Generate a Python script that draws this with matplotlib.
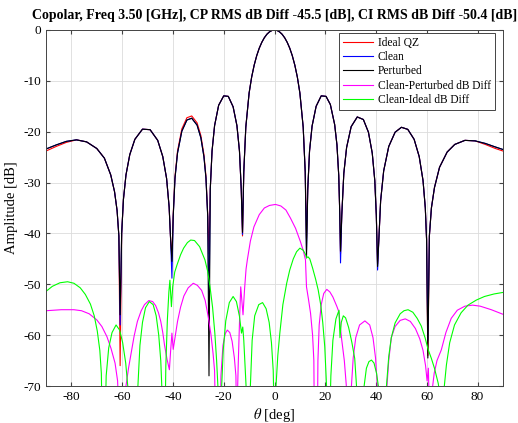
import matplotlib
matplotlib.use("Agg")
import matplotlib.pyplot as plt

plt.rcParams['font.family'] = ['Liberation Serif', 'DejaVu Serif']
plt.rcParams['mathtext.fontset'] = 'stix'
plt.rcParams['axes.unicode_minus'] = False

# angle grid shared by the three patterns
theta = [-90, -86, -82, -78, -74, -70, -67, -64.5, -63, -62, -61.3, -60.8,
         -60.2, -59.5, -58.5, -57, -55, -52, -49, -46, -44, -42.5, -41.5, -40.9, -40.4,
         -39.9, -39.2, -38.2, -36.5, -34.5, -32.6, -30.5, -29, -27.8, -27, -26.3, -25.8,
         -25.3, -24.6, -23.6, -22, -20, -18.2, -16.3, -14.8, -13.8, -13.1, -12.6,
         -12.1, -11.3, -10, -9, -8, -7, -6, -5, -4, -3, -2, -1, 0,
         1, 2, 3, 4, 5, 6, 7, 8, 9, 10, 11.3, 12.1, 12.6,
         13.1, 13.8, 14.8, 16.4, 18.4, 20.3, 22, 23.7, 24.6, 25.3, 25.7, 26.0,
         26.5, 27.3, 28.4, 30.2, 32.6, 35, 37, 38.5, 39.5, 40.1, 40.6,
         41.1, 41.8, 43, 45, 47.5, 50, 52.5, 55, 57, 58.5, 59.4, 59.9, 60.4,
         61, 61.8, 63, 65, 68, 71, 75, 79, 83, 87, 90]

ideal = [-23.8, -22.9, -22.1, -21.6, -22.0, -23.3, -25.2, -28.5, -31.8, -35.5, -40.5, -66.0,
         -40.0, -33.3, -28.5, -24.5, -21.5, -19.5, -19.6, -21.7, -24.9, -29.2, -34.8, -41.4, -44.5,
         -36.3, -28.8, -23.8, -19.45, -17.25, -16.9, -18.25, -20.75, -24.45, -28.7, -36.3, -44.0,
         -31.3, -23.8, -18.8, -14.8, -12.95, -13.05, -15.1, -18.8, -23.8, -31.3, -40.5,
         -27.9, -19.1, -12.4, -9.26, -6.9, -5.04, -3.57, -2.42, -1.52, -0.84, -0.37, -0.09, 0.0,
         -0.09, -0.37, -0.84, -1.52, -2.42, -3.57, -5.04, -6.9, -9.26, -12.4, -19.1, -27.9, -41.0,
         -31.3, -23.8, -18.9, -15.0, -12.95, -13.05, -14.65, -18.6, -22.6, -28.6, -36.0, -44.0,
         -36.4, -28.2, -23.1, -19.0, -17.1, -17.6, -20.1, -24.2, -29.6, -36.4, -46.0,
         -41.2, -33.6, -27.7, -22.9, -20.1, -19.13, -19.54, -21.5, -24.9, -29.6, -35.0, -41.2, -64.0,
         -40.5, -35.0, -31.0, -27.0, -24.0, -22.5, -21.7, -21.8, -22.5, -23.3, -23.8]

clean = [-23.4, -22.6, -21.9, -21.6, -22.0, -23.3, -25.2, -28.5, -31.8, -35.5, -40.5, -58.0,
         -40.0, -33.3, -28.5, -24.5, -21.5, -19.5, -19.6, -21.7, -24.9, -29.2, -34.8, -41.4, -48.8,
         -36.7, -29.2, -24.2, -19.9, -17.7, -17.35, -18.7, -21.2, -24.9, -29.1, -36.7, -55.7,
         -31.3, -23.8, -18.8, -14.8, -12.95, -13.05, -15.1, -18.8, -23.8, -31.3, -40.2,
         -27.9, -19.1, -12.4, -9.26, -6.9, -5.04, -3.57, -2.42, -1.52, -0.84, -0.37, -0.09, 0.0,
         -0.09, -0.37, -0.84, -1.52, -2.42, -3.57, -5.04, -6.9, -9.26, -12.4, -19.1, -27.9, -43.3,
         -31.3, -23.8, -18.9, -15.0, -12.95, -13.05, -14.65, -18.6, -22.6, -28.6, -36.0, -45.8,
         -36.4, -28.2, -23.1, -19.0, -17.1, -17.6, -20.1, -24.2, -29.6, -36.4, -47.2,
         -41.2, -33.6, -27.7, -22.9, -20.1, -19.13, -19.54, -21.5, -24.9, -29.6, -35.0, -41.2, -61.0,
         -40.5, -35.0, -31.0, -27.0, -24.0, -22.5, -21.7, -21.8, -22.3, -23.0, -23.5]

perturbed = [-23.4, -22.6, -21.9, -21.6, -22.0, -23.3, -25.2, -28.5, -31.8, -35.5, -40.5, -56.0,
             -40.0, -33.3, -28.5, -24.5, -21.5, -19.5, -19.6, -21.7, -24.9, -29.2, -34.8, -41.4, -45.5,
             -36.7, -29.2, -24.2, -19.9, -17.7, -17.35, -18.7, -21.2, -24.9, -29.1, -36.7, -68.0,
             -31.3, -23.8, -18.8, -14.8, -12.95, -13.05, -15.1, -18.8, -23.8, -31.3, -39.8,
             -27.9, -19.1, -12.4, -9.26, -6.9, -5.04, -3.57, -2.42, -1.52, -0.84, -0.37, -0.09, 0.0,
             -0.09, -0.37, -0.84, -1.52, -2.42, -3.57, -5.04, -6.9, -9.26, -12.4, -19.1, -27.9, -44.8,
             -31.3, -23.8, -18.9, -15.0, -12.95, -13.05, -14.65, -18.6, -22.6, -28.6, -36.0, -43.5,
             -36.4, -28.2, -23.1, -19.0, -17.1, -17.6, -20.1, -24.2, -29.6, -36.4, -46.5,
             -41.2, -33.6, -27.7, -22.9, -20.1, -19.13, -19.54, -21.5, -24.9, -29.6, -35.0, -41.2, -64.5,
             -40.5, -35.0, -31.0, -27.0, -24.0, -22.5, -21.7, -21.8, -22.3, -23.0, -23.5]

# Clean - Perturbed difference
cp_theta = [-90, -84, -79, -76, -73, -70, -68, -66, -64.4, -62.8, -61.8, -61.1,
            -59.2, -58.5, -57.5, -56.6, -55.3, -54, -52.5, -51.2, -49.5, -48, -46.8, -45.7,
            -44.8, -44, -43.3, -42.3, -41.4, -40.9, -40.4, -39.9, -39.2, -38.2, -37, -35.7,
            -34, -32, -30.4, -28.7, -27.3, -26.1, -25, -24.2, -23.6, -23.2,
            -21.4, -21.1, -20.3, -19.4, -18.6, -17.6, -16.7, -15.8, -15.2, -14.9,
            -14.3, -13.7, -13.3, -12.9, -12.4, -11.8, -11.2, -10.7, -9.5, -8.1, -6, -4, -2,
            0.4, 2.5, 4.5, 6.3, 8.3, 10.2, 11.4, 12.2, 12.6, 13.4, 14.2, 15, 15.5, 15.7,
            16.9, 17.1, 17.6, 18.4, 19.4, 20.6, 21.8, 23, 24.6, 25.4, 25.9, 26.5, 27.5, 28.3, 28.8,
            29.8, 30.3, 31, 32, 33.5, 35.6, 37.5, 38.8, 39.8, 40.5, 40.9,
            43.8, 44.3, 45, 46, 47.5, 49.5, 51.5, 53.5, 55.5, 57.2, 58.5, 59.5, 60.1,
            60.6, 61.0, 61.6, 62.3, 62.9, 64, 65.7, 67.5, 69.6, 72, 75, 78, 81, 85.4, 90]
cp_diff = [-55.2, -55.0, -55.0, -55.2, -55.8, -57.0, -58.3, -60.3, -62.6, -65.5, -69.0, -78.0,
           -78.0, -70.0, -66.5, -63.9, -60.2, -57.3, -55.2, -54.0, -53.2, -53.4, -54.2, -55.6,
           -57.3, -59.5, -62.0, -64.8, -66.8, -63.0, -59.6, -62.8, -60.5, -57.3, -54.5, -52.3,
           -50.7, -49.8, -50.2, -51.2, -53.2, -56.4, -60.0, -63.6, -67.0, -78.0,
           -78.0, -68.0, -62.0, -59.7, -59.0, -59.5, -61.2, -64.5, -68.0, -78.0,
           -66.0, -56.0, -50.5, -53.0, -56.0, -51.0, -47.0, -45.2, -41.5, -38.7, -36.3, -35.0, -34.5,
           -34.3, -34.6, -35.4, -37.0, -39.0, -41.6, -43.5, -45.2, -50.5, -53.0, -55.7, -60.0, -65.0, -78.0,
           -78.0, -65.0, -58.0, -54.0, -51.8, -51.0, -51.5, -52.5, -54.4, -55.5, -58.3, -61.0, -65.0, -70.0, -78.0,
           -78.0, -70.0, -64.5, -60.5, -58.0, -57.2, -58.0, -60.5, -64.5, -70.0, -78.0,
           -78.0, -70.0, -65.0, -60.5, -58.3, -57.1, -56.8, -57.3, -58.7, -60.7, -63.0, -66.0, -69.0,
           -66.5, -75.0, -76.0, -70.0, -67.5, -65.0, -62.9, -59.5, -56.7, -55.1, -54.3, -54.1, -54.3, -55.0, -55.9]

# Clean - Ideal difference
ci_theta = [-90, -87.5, -84.5, -81.5, -79, -76.5, -74.5, -72.5, -71, -69.8, -68.8, -68.2, -67.8,
            -66.8, -66.3, -65.3, -64, -62.4, -61, -59.8, -58.6, -57.8, -57.4,
            -54.2, -53.8, -53, -52, -50.8, -49.3, -47.8, -46.6, -45.6, -44.8, -44.4, -44,
            -43.2, -42.8, -42.2, -41.6, -41.2, -40.6, -40.1, -39.3, -38.4, -37, -35.8, -34.3,
            -33, -31.5, -29.5, -27.4, -26.3, -25.4, -24.4, -23.5, -22.8, -22.3, -22.0,
            -21.1, -20.8, -20.2, -19.2, -17.8, -16.3, -15, -13.8, -13, -12.5, -12.1, -11.6, -11.2, -10.9,
            -9.9, -9.5, -8.8, -7.8, -6.2, -4.7, -3.3, -2.1, -1.2, -0.5, 0,
            0.6, 1.3, 2.1, 3.3, 4.8, 6, 7.4, 8.7, 10, 11.3, 12.3, 12.6, 13.2, 13.9, 15,
            16.2, 17.2, 18.2, 19, 19.8, 20.5, 21,
            21.6, 22.2, 23, 24.2, 25.4, 25.8, 26.3, 27.1, 28, 29.2, 30.5, 31.6, 32.3, 32.8,
            34.8, 35.3, 36.2, 37.2, 38.2, 39.2, 40.2, 40.9, 41.4,
            43.6, 44.1, 45, 46, 47.5, 49.5, 51, 52.6, 54.5, 56.2, 57.8, 59.3, 60.5, 61.8,
            63, 64.5, 65.2, 65.7, 66.5, 67.7, 69, 70.9, 73.5, 76.2, 79.5, 82.7, 86.5, 90]
ci_diff = [-51.4, -50.4, -49.7, -49.5, -49.8, -50.7, -52.0, -53.9, -56.2, -59.2, -63.0, -67.5, -80.0,
           -80.0, -68.0, -62.5, -59.5, -58.0, -59.0, -61.5, -65.5, -70.0, -80.0,
           -80.0, -70.0, -62.0, -57.5, -54.6, -53.4, -54.0, -56.2, -60.0, -65.0, -70.0, -80.0,
           -80.0, -66.0, -57.0, -51.5, -49.2, -54.4, -50.5, -47.6, -46.2, -44.2, -42.9, -41.8,
           -41.3, -41.4, -42.6, -45.2, -47.5, -50.5, -54.5, -59.6, -65.0, -70.0, -80.0,
           -80.0, -70.0, -63.0, -57.2, -53.6, -52.4, -53.4, -56.3, -59.6, -58.4, -61.0, -66.0, -70.0, -80.0,
           -80.0, -70.0, -61.0, -56.2, -54.0, -53.6, -54.8, -57.5, -61.5, -67.0, -80.0,
           -70.0, -64.0, -59.6, -54.0, -49.8, -47.2, -45.0, -43.6, -42.9, -43.3, -44.2, -44.8, -44.6, -45.0, -46.8,
           -49.0, -51.1, -54.0, -57.5, -62.3, -70.0, -80.0,
           -80.0, -68.0, -61.0, -56.8, -55.1, -60.5, -57.5, -56.2, -56.6, -58.5, -61.5, -64.6, -70.0, -80.0,
           -80.0, -70.0, -66.5, -65.2, -64.9, -65.5, -67.5, -70.0, -80.0,
           -80.0, -70.0, -64.2, -60.5, -57.6, -55.8, -55.2, -55.0, -55.5, -56.7, -58.2, -60.5, -62.8, -64.6,
           -66.5, -69.5, -72.0, -80.0, -72.0, -65.9, -61.5, -58.0, -55.6, -54.1, -53.1, -52.4, -51.9, -51.6]

fig = plt.figure(figsize=(5.18, 4.23), dpi=100)
ax = fig.add_axes([46 / 518, 1 - 386 / 423, 457 / 518, 356 / 423])

ax.plot(theta, ideal, color='#ff0000', lw=0.8, label='Ideal QZ')
ax.plot(theta, clean, color='#0000ff', lw=0.8, label='Clean')
ax.plot(theta, perturbed, color='#000000', lw=0.8, label='Perturbed')
ax.plot(cp_theta, cp_diff, color='#ff00ff', lw=0.8, label='Clean-Perturbed dB Diff')
ax.plot(ci_theta, ci_diff, color='#00ff00', lw=0.8, label='Clean-Ideal dB Diff')

ax.set_xlim(-90, 90)
ax.set_ylim(-70, 0)
ax.set_xticks(range(-80, 81, 20))
ax.set_yticks(range(-70, 1, 10))
ax.grid(True, color='#dcdcdc', lw=0.6)
ax.set_axisbelow(True)
ax.tick_params(direction='in', top=True, right=True, labelsize=9.5, length=3, color='#444444')
for s in ax.spines.values():
    s.set_color('#444444')
    s.set_linewidth(0.7)

ax.set_xlabel(r'$\theta$ [deg]', fontsize=10.5, labelpad=2)
ax.set_ylabel('Amplitude [dB]', fontsize=10.5, labelpad=4)
ax.set_title('Copolar, Freq 3.50 [GHz], CP RMS dB Diff -45.5 [dB], CI RMS dB Diff -50.4 [dB]',
             fontsize=10, fontweight='bold', pad=8)

leg = ax.legend(loc='upper right', fontsize=8.3, fancybox=False, framealpha=1,
                edgecolor='#444444', handlelength=2.6, labelspacing=0.2,
                borderpad=0.35, handletextpad=0.4, borderaxespad=0,
                bbox_to_anchor=(0.982, 0.992))
leg.get_frame().set_linewidth(0.7)

fig.savefig('out.png', dpi=100)
